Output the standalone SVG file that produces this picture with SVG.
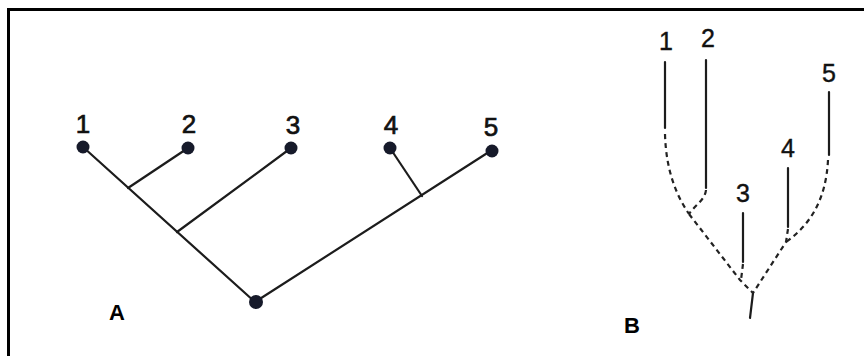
<svg xmlns="http://www.w3.org/2000/svg" width="864" height="356" viewBox="0 0 864 356">
<style>
.edge{stroke:#1c1c1c;stroke-width:2.2;fill:none;stroke-linecap:round}
.dash{stroke:#222;stroke-width:2.2;fill:none;stroke-dasharray:5 4}
.dot{fill:#161a2a}
.num{font-family:"Liberation Sans",Arial,sans-serif;font-size:26px;fill:#111;stroke:#111;stroke-width:0.7;text-anchor:middle}
.numb{font-family:"Liberation Sans",Arial,sans-serif;font-size:25px;fill:#111;stroke:#111;stroke-width:0.4;text-anchor:middle}
.lab{font-family:"Liberation Sans",Arial,sans-serif;font-size:22px;font-weight:bold;fill:#000;text-anchor:middle}
</style>
<rect width="864" height="356" fill="#fff"/>
<g id="frame">
<path d="M8.5,356 V9.5 H864" stroke="#000" stroke-width="3" fill="none"/>
</g>
<g id="connectors">
<line class="edge" x1="83" y1="147" x2="255" y2="302"/>
<line class="edge" x1="128" y1="188" x2="188" y2="148"/>
<line class="edge" x1="177" y1="232" x2="291" y2="148"/>
<line class="edge" x1="255" y1="302" x2="492" y2="150"/>
<line class="edge" x1="390" y1="148" x2="422" y2="196"/>
<line class="edge" x1="665" y1="62" x2="665" y2="128"/>
<line class="edge" x1="706" y1="60" x2="706" y2="188"/>
<line class="edge" x1="743" y1="213" x2="743" y2="262"/>
<line class="edge" x1="788" y1="168" x2="788" y2="227"/>
<line class="edge" x1="829" y1="92" x2="829" y2="155"/>
<line class="edge" x1="753" y1="293" x2="750" y2="318"/>
<path class="dash" d="M665,134 C666,170 676,195 689,214"/>
<path class="dash" d="M706,190 C705,200 695,205 689,214"/>
<path class="dash" d="M689,214 L740,280 L753,293"/>
<path class="dash" d="M743,264 L741,280"/>
<path class="dash" d="M828,160 C826,200 810,225 786,242"/>
<path class="dash" d="M788,229 L786,242 L753,293"/>
</g>
<g id="tA">
<text class="lab" x="117" y="320">A</text>
</g>
<g id="a1"><circle class="dot" cx="83" cy="147" r="6.5"/><text class="num" x="83" y="133">1</text></g>
<g id="a2"><circle class="dot" cx="188" cy="148" r="6.5"/><text class="num" x="189" y="133">2</text></g>
<g id="a3"><circle class="dot" cx="291" cy="148" r="6.5"/><text class="num" x="293" y="134">3</text></g>
<g id="a4"><circle class="dot" cx="390" cy="148" r="6.5"/><text class="num" x="391" y="134">4</text></g>
<g id="a5"><circle class="dot" cx="492" cy="151" r="6.5"/><text class="num" x="491" y="136">5</text></g>
<g id="aroot"><circle class="dot" cx="256" cy="302" r="7"/></g>
<g id="tB">
<text class="lab" x="632" y="333">B</text>
</g>
<g id="b1"><text class="numb" x="666" y="50">1</text></g>
<g id="b2"><text class="numb" x="708" y="47">2</text></g>
<g id="b3"><text class="numb" x="743" y="202">3</text></g>
<g id="b4"><text class="numb" x="788" y="157">4</text></g>
<g id="b5"><text class="numb" x="829" y="82">5</text></g>
</svg>
